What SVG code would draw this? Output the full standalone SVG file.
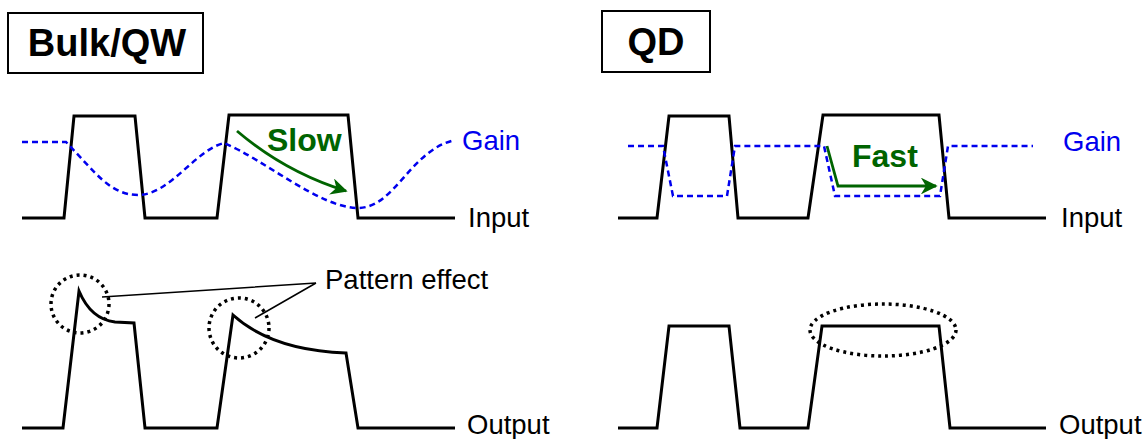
<svg xmlns="http://www.w3.org/2000/svg" width="1145" height="439" viewBox="0 0 1145 439">
<defs>
<style>
.sig{fill:none;stroke:#000;stroke-width:3;stroke-linejoin:miter}
.gain{fill:none;stroke:#0000ee;stroke-width:2.5;stroke-dasharray:6 4}
.dot{fill:none;stroke:#000;stroke-width:3.5;stroke-dasharray:3 4}
.lbl{font-family:"Liberation Sans",Arial,sans-serif;font-size:27.5px;fill:#000}
.blue{fill:#0000ee}
.title{font-family:"Liberation Sans",Arial,sans-serif;font-size:38px;font-weight:bold;fill:#000}
.green{font-family:"Liberation Sans",Arial,sans-serif;font-size:32px;font-weight:bold;fill:#006400}
.box{fill:#fff;stroke:#000;stroke-width:2}
.arr{fill:none;stroke:#006400;stroke-width:2.8}
.lead{fill:none;stroke:#000;stroke-width:1.5}
</style>
<marker id="ah" viewBox="0 0 10 10" refX="9" refY="5" markerWidth="7" markerHeight="6" orient="auto" markerUnits="strokeWidth">
<path d="M0,0 L10,5 L0,10 L3,5 z" fill="#006400"/>
</marker>
</defs>
<g id="title-bulk">
<rect class="box" x="8" y="13" width="195" height="60"/>
<text class="title" x="107" y="56" text-anchor="middle">Bulk/QW</text>
</g>
<g id="title-qd">
<rect class="box" x="602" y="11" width="108" height="61"/>
<text class="title" x="656" y="55" text-anchor="middle">QD</text>
</g>
<g id="bulk-input">
<path class="sig" d="M22,218 L64,218 L74,116 L135,116 L145,218 L217,218 L229,115 L348,115 L358,218 L455,218"/>
<text class="lbl" x="468" y="227">Input</text>
</g>
<g id="bulk-gain">
<path class="gain" d="M22,142 L66,142 C95,172 110,195 138,195 C170,195 195,150 224,143 C265,160 320,208 358,208 C395,208 410,150 455,140"/>
<text class="lbl blue" x="462" y="150">Gain</text>
</g>
<g id="bulk-slow">
<path class="arr" d="M237,131 Q285,172 346,191" marker-end="url(#ah)"/>
<text class="green" x="267" y="151">Slow</text>
</g>
<g id="bulk-output">
<path class="sig" d="M22,428 L63,428 L79,291 C87,310 98,320 115,322 L134,323 L145,428 L217,428 L233,315 C255,335 290,351 346,353 L358,428 L455,428"/>
<text class="lbl" x="467" y="434">Output</text>
</g>
<g id="bulk-pattern">
<circle class="dot" cx="80" cy="304" r="29"/>
<circle class="dot" cx="239" cy="328" r="30"/>
<text class="lbl" x="325" y="289">Pattern effect</text>
</g>
<g id="connectors">
<path class="lead" d="M316,283 L102,297 M316,283 L255,318"/>
</g>
<g id="qd-input">
<path class="sig" d="M618,218 L657,218 L669,116 L729,116 L738,218 L808,218 L823,115 L939,115 L949,218 L1046,218"/>
<text class="lbl" x="1061" y="227">Input</text>
</g>
<g id="qd-gain">
<path class="gain" d="M628,146 L663,146 L673,196 L727,196 L735,146 L824,146 L835,196 L940,196 L948,146 L1033,146"/>
<text class="lbl blue" x="1063" y="151">Gain</text>
</g>
<g id="qd-fast">
<path class="arr" d="M827,146 L838,186 L936,186" marker-end="url(#ah)"/>
<text class="green" x="852" y="167">Fast</text>
</g>
<g id="qd-output">
<path class="sig" d="M618,428 L657,428 L669,326 L729,326 L740,428 L808,428 L822,326 L939,326 L950,428 L1046,428"/>
<text class="lbl" x="1059" y="434">Output</text>
<ellipse class="dot" cx="883" cy="330" rx="73" ry="26"/>
</g>
</svg>
